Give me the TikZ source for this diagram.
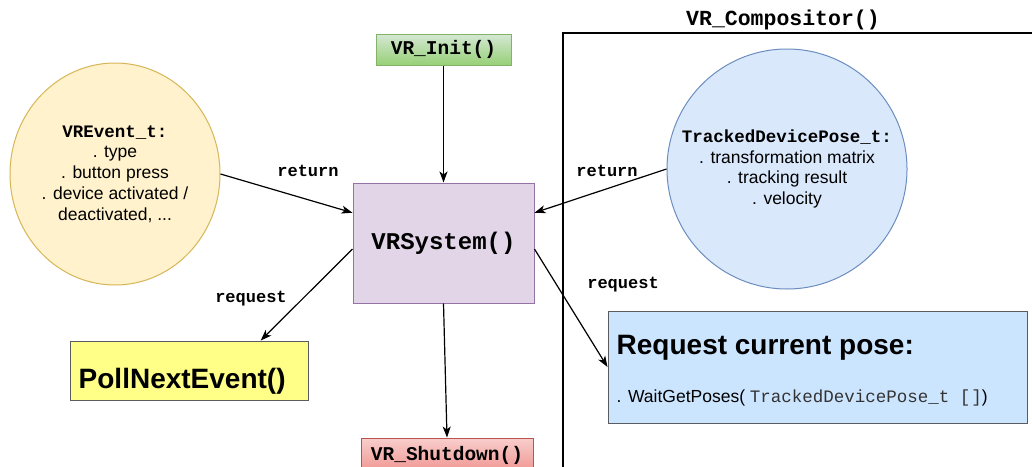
\documentclass[tikz,border=0pt]{standalone}
\usepackage{fontspec}
\setmainfont{Liberation Sans}
\setsansfont{Liberation Sans}
\setmonofont{Liberation Mono}
\usetikzlibrary{shapes.geometric,arrows.meta,calc}
\definecolor{evfill}{HTML}{FFF2CC}
\definecolor{evdraw}{HTML}{D6B656}
\definecolor{tdfill}{HTML}{DAE8FC}
\definecolor{tddraw}{HTML}{6C8EBF}
\definecolor{sysfill}{HTML}{E1D5E7}
\definecolor{sysdraw}{HTML}{9673A6}
\definecolor{inittop}{HTML}{D5E8D4}
\definecolor{initbot}{HTML}{97D077}
\definecolor{initdraw}{HTML}{82B366}
\definecolor{shuttop}{HTML}{F8CECC}
\definecolor{shutbot}{HTML}{EA6B66}
\definecolor{shutdraw}{HTML}{B85450}
\definecolor{pollfill}{HTML}{FFFF88}
\definecolor{boxdraw}{HTML}{5A5C60}
\definecolor{reqfill}{HTML}{CCE5FF}
\definecolor{codegray}{HTML}{333333}
\newcommand{\monob}[1]{{\ttfamily\bfseries #1}}
\tikzset{
  conn/.style={line width=1.2pt, -{Stealth[length=11pt,width=8pt,inset=3pt]}},
  lbl/.style={font=\fontsize{17}{20}\selectfont\ttfamily\bfseries, inner sep=0pt},
  plainbox/.style={draw, line width=1pt, inner sep=0pt},
  bubble/.style={line width=1pt, align=center, inner sep=0pt, font=\fontsize{17.5}{20.8}\selectfont}
}
\begin{document}
\begin{tikzpicture}[x=1pt,y=-1pt]
\clip (0,0) rectangle (1032,466);
\fill[white] (0,0) rectangle (1032,466);

% compositor frame
\draw[line width=1.5pt] (563,500) -- (563,33) -- (1045,33) -- (1045,500);
\node[font=\fontsize{21.5}{24}\selectfont\ttfamily\bfseries, anchor=base] (comp) at (783,25) {VR\_Compositor()};

% circles
\node[ellipse, bubble, draw=evdraw, fill=evfill, minimum width=210, minimum height=222] (ev) at (115,174)
  {\monob{VREvent\_t:}\\. type\\. button press\\. device activated /\\deactivated, ...};
\node[circle, bubble, draw=tddraw, fill=tdfill, minimum size=240] (tdp) at (787,169)
  {\monob{TrackedDevicePose\_t:}\\. transformation matrix\\. tracking result\\. velocity};

% boxes
\node[plainbox, draw=initdraw, top color=inittop, bottom color=initbot, minimum width=135, minimum height=31,
  font=\fontsize{19.5}{22}\selectfont\ttfamily\bfseries] (init) at (443.5,49.5) {VR\_Init()};
\node[plainbox, draw=sysdraw, fill=sysfill, minimum width=181, minimum height=120,
  font=\fontsize{24}{28}\selectfont\ttfamily\bfseries] (sys) at (443.5,243) {VRSystem()};
\node[plainbox, draw=boxdraw, fill=pollfill, minimum width=238, minimum height=59] (poll) at (189,370.5) {};
\node[anchor=base west, inner sep=0pt, font=\fontsize{28}{32}\selectfont\bfseries] (pollt) at ($(poll.west)+(9,18)$) {PollNextEvent()};
\node[plainbox, draw=shutdraw, top color=shuttop, bottom color=shutbot, minimum width=172, minimum height=60] (shut) at (447,468) {};
\node[anchor=base, inner sep=0pt, font=\fontsize{19.5}{22}\selectfont\ttfamily\bfseries] (shutt) at ($(shut.north)+(0,23)$) {VR\_Shutdown()};
\node[plainbox, draw=boxdraw, fill=reqfill, minimum width=419, minimum height=112] (req) at (817.5,367) {};
\node[anchor=base west, inner sep=0pt, font=\fontsize{28}{32}\selectfont\bfseries] (reqt) at ($(req.north west)+(9,44)$) {Request current pose:};
\node[anchor=base west, inner sep=0pt, font=\fontsize{17.5}{20}\selectfont] (reqc) at ($(req.north west)+(9,92)$)
  {. WaitGetPoses( {\ttfamily\color{codegray}TrackedDevicePose\_t [\hspace{0.05em}]})};

% connectors
\draw[conn] (init.south) -- (sys.north);
\draw[conn] (sys.south) -- (shut.north);
\draw[conn] (ev.east) -- ($(sys.north west)!0.25!(sys.south west)$);
\draw[conn] (tdp.west) -- ($(sys.north east)!0.25!(sys.south east)$);
\draw[conn] ($(sys.north west)!0.55!(sys.south west)$) -- ($(poll.north west)!0.8!(poll.north east)$);
\draw[conn] ($(sys.north east)!0.55!(sys.south east)$) -- ($(req.north west)!0.5!(req.south west)$);

% labels
\node[lbl, anchor=base] (r1) at (308,176) {return};
\node[lbl, anchor=base] (r2) at (607,176) {return};
\node[lbl, anchor=base] (q1) at (251,302) {request};
\node[lbl, anchor=base] (q2) at (623,288) {request};
\end{tikzpicture}
\end{document}
